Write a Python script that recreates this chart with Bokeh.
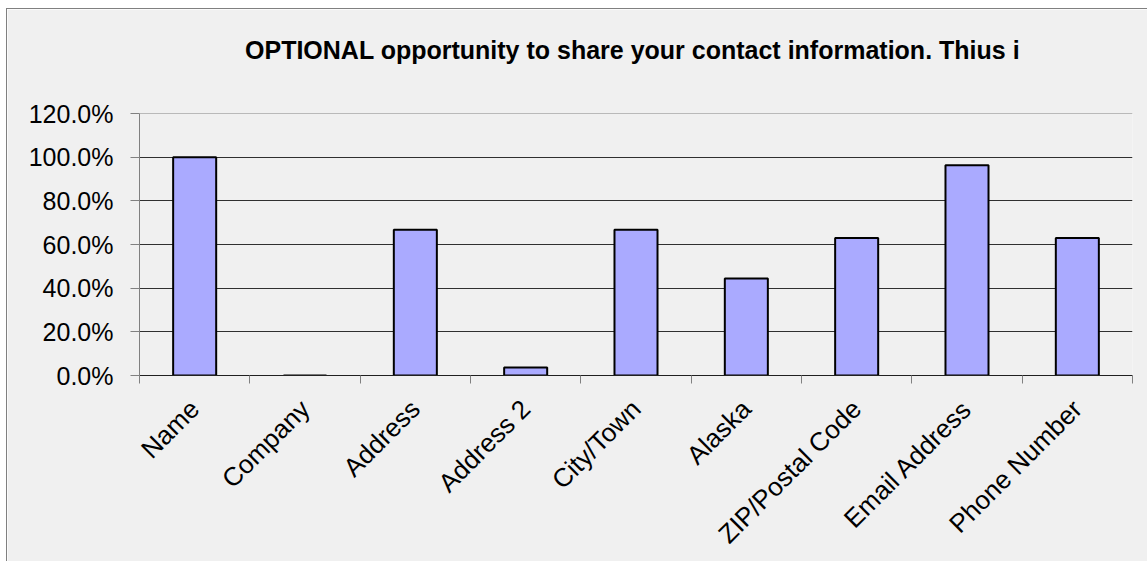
from bokeh.plotting import figure
from bokeh.models import (ColumnDataSource, FixedTicker, NumeralTickFormatter,
                          Range1d, LinearAxis, Span)
from bokeh.embed import file_html
from bokeh.resources import INLINE

# ---- data ----
categories = ["Name", "Company", "Address", "Address 2", "City/Town",
              "Alaska", "ZIP/Postal Code", "Email Address", "Phone Number"]
values = [1.0, 0.0, 0.667, 0.037, 0.667, 0.444, 0.630, 0.963, 0.630]
y_ticks = [0.0, 0.2, 0.4, 0.6, 0.8, 1.0, 1.2]
title_text = "OPTIONAL opportunity to share your contact information.  Thius i"

FONT = "Liberation Sans"
BG = "#f0f0f0"

centers = [i + 0.5 for i in range(len(categories))]
bounds = [float(i) for i in range(len(categories) + 1)]

src = ColumnDataSource(dict(x=centers, top=values, cat=categories))

p = figure(width=1141, height=553, output_backend="svg", toolbar_location=None,
           x_range=Range1d(0, len(categories)), y_range=Range1d(0, y_ticks[-1]),
           x_axis_location=None, y_axis_location=None)
p.margin = (8, 0, 0, 6)
p.min_border_left = 132
p.min_border_right = 16
p.min_border_top = 104
p.min_border_bottom = 185
p.background_fill_color = BG
p.border_fill_color = BG
p.outline_line_color = None
p.styles = {"border-left": "1px solid #808080", "border-top": "1px solid #808080"}

p.vbar(x="x", top="top", width=0.39, bottom=0, source=src,
       fill_color="#aaaaff", line_color="black", line_width=2)

# y axis
yaxis = LinearAxis(ticker=FixedTicker(ticks=y_ticks),
                   formatter=NumeralTickFormatter(format="0.0%"))
yaxis.axis_line_color = "#808080"
yaxis.major_tick_line_color = "#808080"
yaxis.major_tick_out = 9
yaxis.major_tick_in = 0
yaxis.minor_tick_line_color = None
yaxis.major_label_standoff = 17
yaxis.major_label_text_font = FONT
yaxis.major_label_text_font_size = "25px"
yaxis.major_label_text_color = "black"
p.add_layout(yaxis, "left")

# x axis: labels at category centres, ticks at category boundaries
xaxis = LinearAxis(ticker=FixedTicker(ticks=centers, minor_ticks=bounds))
xaxis.major_label_overrides = {c: n for c, n in zip(centers, categories)}
xaxis.axis_line_color = "#202020"
xaxis.major_tick_line_color = None
xaxis.major_tick_out = 0
xaxis.major_tick_in = 0
xaxis.minor_tick_line_color = "#808080"
xaxis.minor_tick_out = 8
xaxis.minor_tick_in = 0
xaxis.major_label_orientation = 0.785398
xaxis.major_label_standoff = 21
xaxis.major_label_text_font = FONT
xaxis.major_label_text_font_size = "26px"
xaxis.major_label_text_color = "black"
p.add_layout(xaxis, "below")

p.xgrid.visible = False
p.ygrid.ticker = FixedTicker(ticks=y_ticks[1:-1])
p.ygrid.grid_line_color = "#303030"
p.ygrid.grid_line_width = 1
p.add_layout(Span(location=y_ticks[-1], dimension="width",
                  line_color="#808080", line_width=1))

# chart title: the label of a bare axis above the plot area
title_axis = LinearAxis(ticker=FixedTicker(ticks=[]), axis_label=title_text)
title_axis.axis_line_color = None
title_axis.major_tick_line_color = None
title_axis.minor_tick_line_color = None
title_axis.major_tick_out = 0
title_axis.major_tick_in = 0
title_axis.minor_tick_out = 0
title_axis.minor_tick_in = 0
title_axis.major_label_standoff = 0
title_axis.axis_label_standoff = 50
title_axis.axis_label_text_font = FONT
title_axis.axis_label_text_font_size = "25px"
title_axis.axis_label_text_font_style = "bold"
title_axis.axis_label_text_color = "black"
p.add_layout(title_axis, "above")

open("out.html", "w").write(file_html(p, INLINE))
